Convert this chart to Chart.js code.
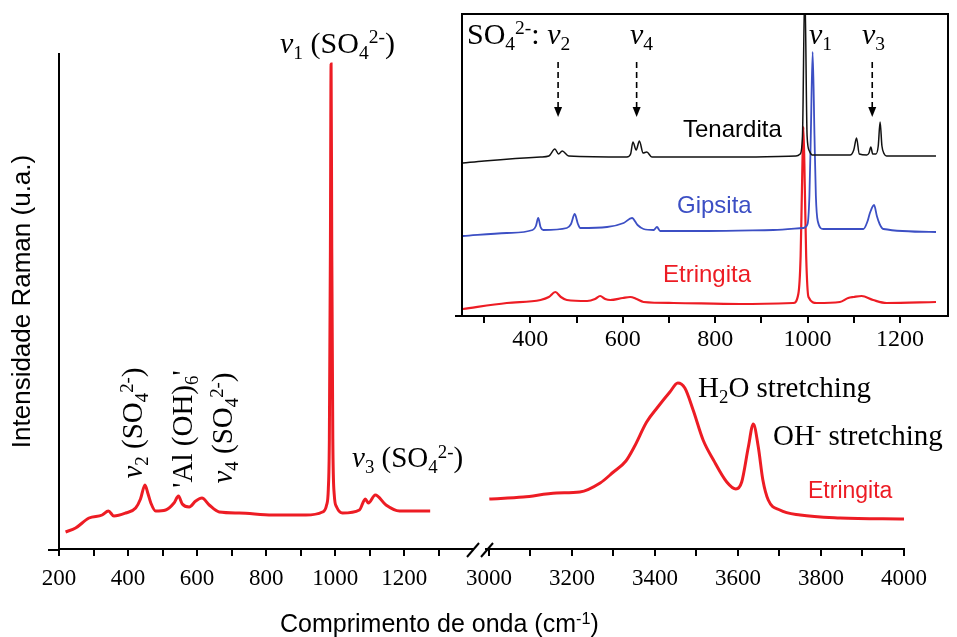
<!DOCTYPE html>
<html lang="pt">
<head>
<meta charset="UTF-8">
<title>Espectro Raman - Etringita</title>
<script src="https://cdn.jsdelivr.net/npm/chart.js"></script>
<style>
  body { margin: 0; background: #fff; }
  #wrap { position: relative; width: 957px; height: 637px; overflow: hidden; }
  #wrap canvas { position: absolute; }
  .lbl { position: absolute; white-space: nowrap; line-height: 1; color: #000;
         font-family: 'Liberation Serif', 'Times New Roman', serif; font-size: 29px; }
  .sans { font-family: 'Liberation Sans', Arial, sans-serif; }
  .lbl sub, .lbl sup { font-size: 0.65em; line-height: 0; position: relative; vertical-align: baseline; }
  .lbl sub { top: 0.3em; }
  .lbl sup { top: -0.5em; }
  .rot { transform: translate(-50%, -50%) rotate(-90deg); }
  .red { color: #ed1c24; }
  .blue { color: #3c4fc4; }
</style>
</head>
<body>
<div id="wrap">
  <canvas id="mainLow" width="957" height="637" style="left:0;top:0"></canvas>
  <canvas id="mainHigh" width="957" height="637" style="left:0;top:0"></canvas>
  <canvas id="inset" width="517" height="360" style="left:440px;top:0"></canvas>

  <div class="lbl" style="left:280px;top:28px;font-size:30px"><i>ν</i><sub>1</sub> (SO<sub>4</sub><sup>2-</sup>)</div>
  <div class="lbl rot" style="left:132px;top:423px"><i>ν</i><sub>2</sub> (SO<sub>4</sub><sup>2-</sup>)</div>
  <div class="lbl rot" style="left:182px;top:429px">'Al (OH)<sub>6</sub>'</div>
  <div class="lbl rot" style="left:222px;top:428px"><i>ν</i><sub>4</sub> (SO<sub>4</sub><sup>2-</sup>)</div>
  <div class="lbl" style="left:352px;top:443px"><i>ν</i><sub>3</sub> (SO<sub>4</sub><sup>2-</sup>)</div>
  <div class="lbl" style="left:698px;top:373px">H<sub>2</sub>O stretching</div>
  <div class="lbl" style="left:773px;top:421px">OH<sup>-</sup> stretching</div>
  <div class="lbl sans red" style="left:808px;top:479px;font-size:23px">Etringita</div>
  <div class="lbl sans" style="left:280px;top:611px;font-size:25px">Comprimento de onda (cm<sup>-1</sup>)</div>

  <div class="lbl" style="left:467px;top:19px;font-size:30px">SO<sub>4</sub><sup>2-</sup>: <i>ν</i><sub>2</sub></div>
  <div class="lbl" style="left:630px;top:19px;font-size:30px"><i>ν</i><sub>4</sub></div>
  <div class="lbl" style="left:809px;top:19px;font-size:30px"><i>ν</i><sub>1</sub></div>
  <div class="lbl" style="left:862px;top:19px;font-size:30px"><i>ν</i><sub>3</sub></div>
  <div class="lbl sans" style="left:683px;top:117px;font-size:24px">Tenardita</div>
  <div class="lbl sans blue" style="left:677px;top:193px;font-size:24px">Gipsita</div>
  <div class="lbl sans red" style="left:663px;top:262px;font-size:24px">Etringita</div>
</div>

<script>
// espectro da etringita, região 200-1300 cm-1
const lowWn  = [219, 248, 287, 325, 343, 359, 393, 422, 436, 449, 458, 466, 480, 509, 533, 546, 557, 577, 596, 614, 635, 664, 722, 818, 915, 963, 975, 980, 983, 986, 988, 990, 993, 997, 1004, 1021, 1070, 1087, 1096, 1116, 1147, 1186, 1275];
const lowInt = [17, 21, 31, 34, 38, 33, 36, 41, 50, 64, 55, 46, 38, 39, 46, 53, 45, 42, 48, 51, 44, 37, 36, 34, 34, 37, 44, 60, 110, 300, 485, 300, 110, 55, 42, 36, 39, 50, 46, 54, 44, 38, 38];

// espectro da etringita, região 3000-4000 cm-1
const highWn  = [3001, 3083, 3163, 3219, 3268, 3300, 3330, 3350, 3380, 3405, 3436, 3455, 3472, 3492, 3516, 3541, 3573, 3595, 3609, 3625, 3637, 3649, 3660, 3673, 3701, 3750, 3846, 4000];
const highInt = [50, 52, 56, 57, 66, 77, 88, 102, 127, 141, 157, 166, 161, 139, 109, 89, 67, 60, 67, 102, 125, 102, 69, 49, 39, 34, 31, 30];

// inset: tenardita, gipsita, etringita (com deslocamento vertical)
const tenWn  = [254, 300, 422, 440, 453, 461, 469, 483, 609, 617, 622, 629, 636, 644, 652, 663, 854, 975, 984, 989, 994, 999, 1004, 1010, 1092, 1100, 1106, 1112, 1128, 1133, 1137, 1141, 1148, 1153, 1157, 1161, 1166, 1171, 1278];
const tenInt = [153, 155, 159, 160, 167, 162, 165, 160, 159, 162, 174, 166, 175, 163, 164, 159, 159, 160, 162, 180, 330, 180, 165, 161, 161, 166, 178, 162, 161, 163, 169, 162, 162, 170, 194, 170, 162, 160, 160];

const gipWn  = [254, 349, 405, 412, 417, 422, 428, 479, 488, 496, 503, 508, 566, 602, 620, 632, 645, 667, 674, 681, 782, 926, 991, 1000, 1004, 1007, 1011, 1015, 1018, 1022, 1034, 1121, 1130, 1135, 1144, 1150, 1156, 1164, 1278];
const gipInt = [80, 83, 86, 90, 98, 89, 86, 88, 92, 102, 92, 88, 89, 93, 98, 91, 87, 86, 89, 85, 85, 86, 88, 92, 120, 180, 264, 180, 120, 95, 87, 87, 95, 103, 111, 100, 92, 87, 84];

const etrWn  = [254, 349, 422, 440, 454, 466, 479, 523, 540, 551, 562, 573, 600, 616, 630, 645, 710, 854, 969, 980, 985, 988, 991, 994, 997, 1002, 1020, 1070, 1088, 1100, 1117, 1142, 1171, 1278];
const etrInt = [7, 13, 16, 19, 24, 19, 16, 15, 17, 20, 17, 16, 18, 19, 17, 14, 13, 12, 13, 22, 60, 130, 189, 130, 60, 19, 13, 14, 18, 19, 20, 16, 13, 14];

const lowTicks   = [200, 300, 400, 500, 600, 700, 800, 900, 1000, 1100, 1200, 1300];
const highTicks  = [3000, 3100, 3200, 3300, 3400, 3500, 3600, 3700, 3800, 3900, 4000];
const insetTicks = [300, 400, 500, 600, 700, 800, 900, 1000, 1100, 1200];
const arrowWn = [460, 630, 1140];   // setas tracejadas no inset
const arrowTop = 254, arrowTip = 199;

const RED = '#ed1c24', BLUE = '#3c4fc4', BLACK = '#111111';
const SERIF = 'Liberation Serif, serif';
const SANS = 'Liberation Sans, sans-serif';

function pts(xs, ys) { return xs.map((x, i) => ({ x: x, y: ys[i] })); }

function lineSet(xs, ys, color, w) {
    return {
        data: pts(xs, ys),
        borderColor: color,
        borderWidth: w,
        pointRadius: 0,
        cubicInterpolationMode: 'monotone',
        fill: false
    };
}

function xAxis(min, max, tickVals, fontSize, pad, height) {
    return {
        type: 'linear',
        min: min,
        max: max,
        afterBuildTicks: s => { s.ticks = tickVals.map(v => ({ value: v })); },
        afterFit: s => { s.height = height; },
        grid: { display: true, drawOnChartArea: false, drawTicks: true, tickLength: 7, color: '#000', lineWidth: 2 },
        border: { display: true, color: '#000', width: 2 },
        ticks: {
            autoSkip: false, maxRotation: 0, padding: pad, color: '#000',
            font: { family: SERIF, size: fontSize },
            callback: v => (v % 200 === 0 ? String(v) : '')
        }
    };
}

// marcas de quebra do eixo x
function slash(ctx, x, y) {
    ctx.save();
    ctx.strokeStyle = '#000';
    ctx.lineWidth = 2;
    ctx.beginPath();
    ctx.moveTo(x - 6, y + 7);
    ctx.lineTo(x + 6, y - 7);
    ctx.stroke();
    ctx.restore();
}

const lowDecor = {
    id: 'lowDecor',
    afterDraw(chart) {
        const { ctx, chartArea: a } = chart;
        ctx.save();
        ctx.strokeStyle = '#000';
        ctx.lineWidth = 2;
        ctx.beginPath();
        ctx.moveTo(a.left - 11, a.bottom + 1);
        ctx.lineTo(a.left, a.bottom + 1);
        ctx.stroke();
        ctx.restore();
        slash(ctx, a.right, a.bottom + 1);
    }
};

const highDecor = {
    id: 'highDecor',
    afterDraw(chart) {
        const a = chart.chartArea;
        slash(chart.ctx, a.left + 1, a.bottom + 1);
    }
};

new Chart(document.getElementById('mainLow'), {
    type: 'line',
    data: { datasets: [lineSet(lowWn, lowInt, RED, 3)] },
    options: {
        responsive: false,
        animation: false,
        layout: { padding: { left: 0, right: 484, top: 54, bottom: 0 } },
        plugins: { legend: { display: false }, tooltip: { enabled: false } },
        scales: {
            x: xAxis(200, 1399, lowTicks, 23, 9, 88),
            y: {
                min: 0, max: 495,
                afterFit: s => { s.width = 59; },
                grid: { display: false },
                border: { display: true, color: '#000', width: 2 },
                ticks: { display: false },
                title: {
                    display: true, text: 'Intensidade Raman (u.a.)', color: '#000',
                    font: { family: SANS, size: 26 }, padding: { top: 7, bottom: 0 }
                }
            }
        }
    },
    plugins: [lowDecor]
});

new Chart(document.getElementById('mainHigh'), {
    type: 'line',
    data: { datasets: [lineSet(highWn, highInt, RED, 3)] },
    options: {
        responsive: false,
        animation: false,
        layout: { padding: { left: 486, right: 53, top: 54, bottom: 0 } },
        plugins: { legend: { display: false }, tooltip: { enabled: false } },
        scales: {
            x: xAxis(2993, 4000, highTicks, 23, 9, 88),
            y: { display: false, min: 0, max: 495 }
        }
    },
    plugins: [highDecor]
});

const insetDecor = {
    id: 'insetDecor',
    afterDatasetsDraw(chart) {
        const { ctx, scales: { x, y } } = chart;
        ctx.save();
        ctx.strokeStyle = '#000';
        ctx.fillStyle = '#000';
        ctx.lineWidth = 1.6;
        arrowWn.forEach(w => {
            const px = x.getPixelForValue(w);
            const y1 = y.getPixelForValue(arrowTop);
            const y2 = y.getPixelForValue(arrowTip);
            ctx.setLineDash([6, 4]);
            ctx.beginPath();
            ctx.moveTo(px, y1);
            ctx.lineTo(px, y2 - 8);
            ctx.stroke();
            ctx.setLineDash([]);
            ctx.beginPath();
            ctx.moveTo(px, y2);
            ctx.lineTo(px - 4, y2 - 10);
            ctx.lineTo(px + 4, y2 - 10);
            ctx.closePath();
            ctx.fill();
        });
        ctx.restore();
    },
    afterDraw(chart) {
        const { ctx, chartArea: a } = chart;
        ctx.save();
        ctx.strokeStyle = '#000';
        ctx.lineWidth = 2;
        ctx.strokeRect(a.left, a.top, a.right - a.left, a.bottom - a.top);
        ctx.beginPath();
        ctx.moveTo(a.left - 7, a.bottom);
        ctx.lineTo(a.left, a.bottom);
        ctx.stroke();
        ctx.restore();
    }
};

new Chart(document.getElementById('inset'), {
    type: 'line',
    data: {
        datasets: [
            lineSet(tenWn, tenInt, BLACK, 1.5),
            lineSet(gipWn, gipInt, BLUE, 1.8),
            lineSet(etrWn, etrInt, RED, 2.2)
        ]
    },
    options: {
        responsive: false,
        animation: false,
        layout: { padding: { left: 22, right: 9, top: 14, bottom: 0 } },
        plugins: { legend: { display: false }, tooltip: { enabled: false } },
        scales: {
            x: xAxis(252, 1304, insetTicks, 24, 2, 44),
            y: { display: false, min: 0, max: 302 }
        }
    },
    plugins: [insetDecor]
});
</script>
</body>
</html>
